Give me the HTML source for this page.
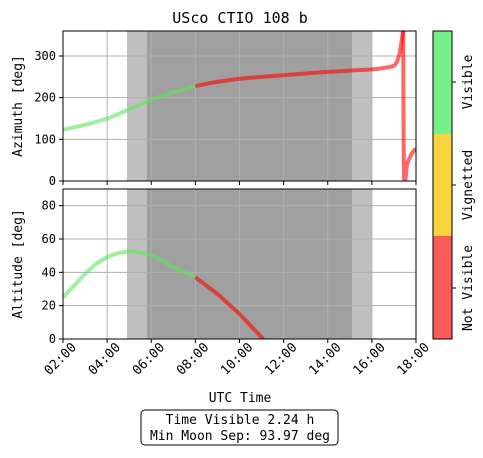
<!DOCTYPE html>
<html><head><meta charset="utf-8"><style>
body{margin:0;background:#fff;}
svg text{font-family:"DejaVu Sans Mono","Liberation Mono",monospace;fill:#000;}
</style></head><body>
<svg id="c" width="483" height="453" xmlns="http://www.w3.org/2000/svg"></svg>
<script>
const azHours=[2,3,4,5,6,7,8,9,10,11,12,13,14,15,16,16.5,17,17.2,17.3,17.42];
const azVals=[123,135,150,172,195,213,228,238,245,250,254,258,262,265,268,271,277,295,320,360];
const azHours2=[17.42,17.46,17.6,17.8,18];
const azVals2=[360,10,40,65,78];
const altHours=[2,2.5,3,3.5,4,4.5,5,5.5,6,6.5,7,7.5,8,8.5,9,9.5,10,10.5,11,11.1];
const altVals=[25,32,39,45,49,51.5,52.5,52,50,47,43,40,37,32,27,21,15,8,1,0];
const visibleUntil=8;
const twilight=[4.9,16.0];
const night=[5.8,15.1];
const xTicks=[2,4,6,8,10,12,14,16,18];
const azTicks=[0,100,200,300];
const altTicks=[0,20,40,60,80];

const S=document.getElementById('c');const NS='http://www.w3.org/2000/svg';
function el(t,a,p){const e=document.createElementNS(NS,t);for(const k in a)e.setAttribute(k,a[k]);(p||S).appendChild(e);return e;}
const X0=63,X1=416;
const x=h=>X0+(h-2)/16*(X1-X0);
const yAz=v=>181-v/360*150;
const yAlt=v=>339-v/90*150;
function panel(top,bot,yf,ticks,label,name){
  const g=el('g',{});
  
  
  let r=el('rect',{x:x(twilight[0]),y:top,width:x(twilight[1])-x(twilight[0]),height:bot-top,fill:'#c0c0c0'},g);
  
  r=el('rect',{x:x(night[0]),y:top,width:x(night[1])-x(night[0]),height:bot-top,fill:'#a0a0a0'},g);
  
  xTicks.forEach(t=>{el('line',{x1:x(t),x2:x(t),y1:top,y2:bot,stroke:'#b0b0b0','stroke-width':1},g);el('line',{x1:x(t),x2:x(t),y1:bot,y2:bot+4,stroke:'#000'},g);});
  ticks.forEach(t=>{el('line',{x1:X0,x2:X1,y1:yf(t),y2:yf(t),stroke:'#b0b0b0','stroke-width':1},g);el('line',{x1:X0-4,x2:X0,y1:yf(t),y2:yf(t),stroke:'#000'},g);
    const tx=el('text',{x:X0-7,y:yf(t)+4,'font-size':12,'text-anchor':'end'},g);tx.textContent=t;});
  const yl=el('text',{x:0,y:0,'font-size':13,'text-anchor':'middle',transform:`translate(22,${(top+bot)/2}) rotate(-90)`},g);yl.textContent=label;
  
  return g;
}
function smooth(pts){
  let d='M'+pts[0][0]+','+pts[0][1];
  for(let i=0;i<pts.length-1;i++){
    const p0=pts[i-1]||pts[i],p1=pts[i],p2=pts[i+1],p3=pts[i+2]||p2;
    const c1=[p1[0]+(p2[0]-p0[0])/6,p1[1]+(p2[1]-p0[1])/6];
    const c2=[p2[0]-(p3[0]-p1[0])/6,p2[1]-(p3[1]-p1[1])/6];
    d+=` C${c1[0]},${c1[1]} ${c2[0]},${c2[1]} ${p2[0]},${p2[1]}`;
  }
  return d;
}
function line(g,hs,vs,yf,name){
  let gp=[],rp=[];
  hs.forEach((h,i)=>{const p=[x(h),yf(vs[i])];if(h<=visibleUntil)gp.push(p);if(h>=visibleUntil)rp.push(p);});
  if(gp.length>1){const l=el('path',{d:smooth(gp),fill:'none',stroke:'#5ee65e','stroke-opacity':0.6,'stroke-width':4,'stroke-linejoin':'round'},g);}
  if(rp.length>1){const l=el('path',{d:smooth(rp),fill:'none',stroke:'#ff0000','stroke-opacity':0.6,'stroke-width':4,'stroke-linejoin':'round'},g);}
}
const defs=el('defs',{});
el('rect',{x:X0,y:31,width:X1-X0,height:150},el('clipPath',{id:'cA'},defs));
el('rect',{x:X0,y:189,width:X1-X0,height:150},el('clipPath',{id:'cB'},defs));
const gA=panel(31,181,yAz,azTicks,'Azimuth [deg]','azimuth-panel');
const lA=el('g',{'clip-path':'url(#cA)'},gA);
line(lA,azHours,azVals,yAz,'azimuth-line');line(lA,azHours2,azVals2,yAz,'azimuth-line-wrap');
el('rect',{x:X0,y:31,width:X1-X0,height:150,fill:'none',stroke:'#000'},gA);
const gB=panel(189,339,yAlt,altTicks,'Altitude [deg]','altitude-panel');
const lB=el('g',{'clip-path':'url(#cB)'},gB);
line(lB,altHours,altVals,yAlt,'altitude-line');
el('rect',{x:X0,y:189,width:X1-X0,height:150,fill:'none',stroke:'#000'},gB);
xTicks.forEach(t=>{const tx=el('text',{x:0,y:0,'font-size':13,'text-anchor':'end',transform:`translate(${x(t)+14},${348}) rotate(-45)`});tx.textContent=String(t).padStart(2,'0')+':00';
 });
let t=el('text',{x:240,y:402,'font-size':13,'text-anchor':'middle'});t.textContent='UTC Time';
t=el('text',{x:240,y:23,'font-size':15,'text-anchor':'middle'});t.textContent='USco CTIO 108 b';
const cb=el('g',{});
el('rect',{x:433,y:31,width:19,height:103,fill:'#77f08a'},cb);
el('rect',{x:433,y:134,width:19,height:102,fill:'#f8d53e'},cb);
el('rect',{x:433,y:236,width:19,height:103,fill:'#ff5a5a'},cb);
el('rect',{x:433,y:31,width:19,height:308,fill:'none',stroke:'#000'},cb);
[['Visible',82],['Vignetted',185],['Not Visible',288]].forEach(([s,y])=>{el('line',{x1:452,x2:456,y1:y,y2:y,stroke:'#000'},cb);
 const tx=el('text',{x:0,y:0,'font-size':13,'text-anchor':'middle',transform:`translate(472,${y}) rotate(-90)`},cb);tx.textContent=s;});
const ib=el('g',{});
el('rect',{x:141,y:410,width:197,height:35,rx:4,fill:'#fff',stroke:'#000'},ib);
t=el('text',{x:240,y:424,'font-size':13,'text-anchor':'middle'},ib);t.textContent='Time Visible 2.24 h';
t=el('text',{x:240,y:440,'font-size':13,'text-anchor':'middle'},ib);t.textContent='Min Moon Sep: 93.97 deg';
</script>
</body></html>
